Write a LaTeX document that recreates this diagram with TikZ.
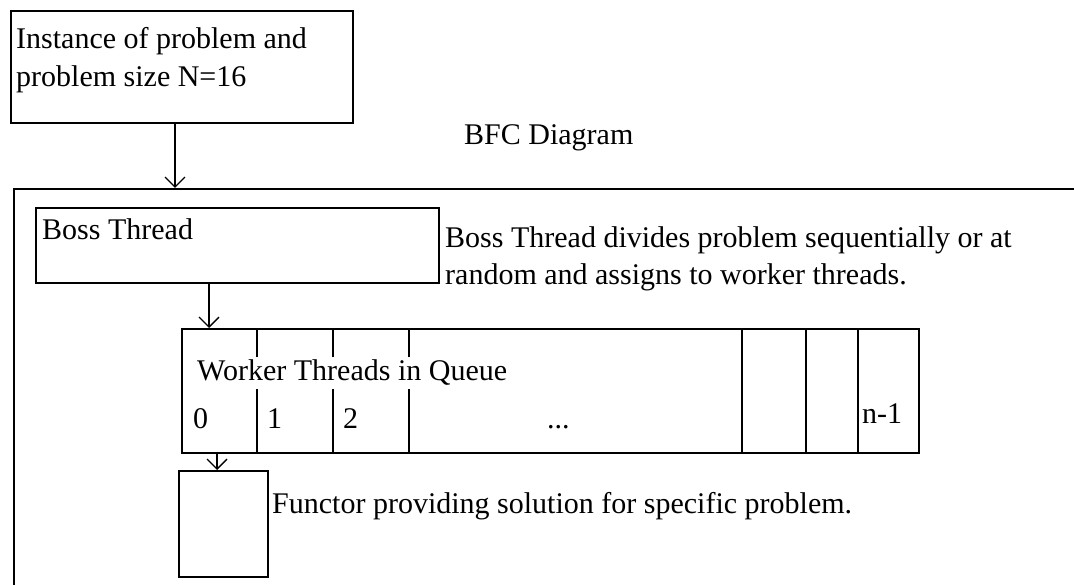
\documentclass[tikz,border=0pt]{standalone}
\usepackage{fontspec}
\setmainfont{Liberation Serif}
\usetikzlibrary{arrows.meta}
\begin{document}
\begin{tikzpicture}[x=1pt,y=-1pt,
  box/.style={draw=black,line width=1.6pt,rectangle,inner sep=0pt,anchor=north west},
  txt/.style={inner sep=0pt,anchor=base west,font=\fontsize{30}{37}\selectfont,text=black},
  arr/.style={draw=black,line width=1.6pt,-{Straight Barb[length=10pt,width=20pt,line width=1.4pt]}}]
\useasboundingbox (0,0) rectangle (1074,585);
\clip (0,0) rectangle (1074,585);
% boxes
\node[box,minimum width=342,minimum height=112] (top) at (10,10) {};
\node[box,minimum width=1100,minimum height=420] (outer) at (13,188) {};
\node[box,minimum width=403,minimum height=75] (boss) at (35,207) {};
\node[box,minimum width=737,minimum height=124] (queue) at (181,328) {};
\node[box,minimum width=89,minimum height=106] (functor) at (178,470) {};
% queue dividers
\foreach \xx/\nm in {257/c1,333/c2,409/c3,742/c4,806/c5,858/c6}{
  \coordinate (\nm) at (\xx,0);
  \draw[line width=1.6pt] (queue.north -| \nm) -- (queue.south -| \nm);
}
% connectors
\coordinate (a1) at (175,0);
\coordinate (a2) at (209,0);
\coordinate (a3) at (217,0);
\draw[arr] (top.south -| a1) -- (outer.north -| a1);
\draw[arr] (boss.south -| a2) -- (queue.north -| a2);
\draw[arr] (queue.south -| a3) -- (functor.north -| a3);
% texts
\node[txt] (t1a) at (16,49) {Instance of problem and};
\node[txt] (t1b) at (16,87) {problem size N=16};
\node[txt] (bfc) at (464,145) {BFC Diagram};
\node[txt] (bosslabel) at (42,240) {Boss Thread};
\node[txt] (desc1) at (445,248) {Boss Thread divides problem sequentially or at};
\node[txt] (desc2) at (445,285) {random and assigns to worker threads.};
\node[txt,fill=white,inner ysep=3pt] (worker) at (197,381) {Worker Threads in Queue};
\node[txt] (d0) at (193,428) {0};
\node[txt] (d1) at (267,428) {1};
\node[txt] (d2) at (343,428) {2};
\node[txt] (dots) at (547,428) {...};
\node[txt] (dn) at (862,423) {n-1};
\node[txt] (ftext) at (272,513) {Functor providing solution for specific problem.};
\end{tikzpicture}
\end{document}
